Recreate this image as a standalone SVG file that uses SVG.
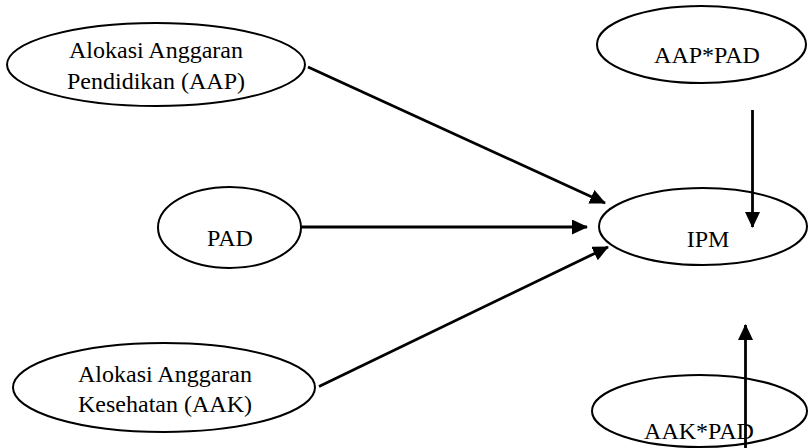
<svg xmlns="http://www.w3.org/2000/svg" width="808" height="448" viewBox="0 0 808 448">
<defs>
<marker id="arr" viewBox="0 0 16 15" refX="15" refY="7.5" markerWidth="16" markerHeight="15" markerUnits="userSpaceOnUse" orient="auto">
<path d="M0,0 L16,7.5 L0,15 z" fill="#000"/>
</marker>
<style>
.node ellipse{fill:#fff;stroke:#000;stroke-width:2}
.node text{fill:#000}
.edge{stroke:#000;stroke-width:2.8;fill:none}
</style>
</defs>
<rect width="808" height="448" fill="#fff"/>
<g id="n-aap" class="node" font-family="Liberation Serif, Times New Roman, serif" font-size="24" text-anchor="middle">
<ellipse cx="156" cy="64.5" rx="149" ry="41.5"/>
<text x="156" y="58">Alokasi Anggaran</text>
<text x="156" y="89">Pendidikan (AAP)</text>
</g>
<g id="n-pad" class="node" font-family="Liberation Serif, Times New Roman, serif" font-size="24" text-anchor="middle">
<ellipse cx="229.5" cy="227.5" rx="71.5" ry="40.5"/>
<text x="230" y="246">PAD</text>
</g>
<g id="n-aak" class="node" font-family="Liberation Serif, Times New Roman, serif" font-size="24" text-anchor="middle">
<ellipse cx="164" cy="387.5" rx="151" ry="44.5"/>
<text x="165" y="382">Alokasi Anggaran</text>
<text x="165" y="412">Kesehatan (AAK)</text>
</g>
<g id="n-aappad" class="node" font-family="Liberation Serif, Times New Roman, serif" font-size="24" text-anchor="middle">
<ellipse cx="701.5" cy="44.5" rx="104.5" ry="38.5"/>
<text x="707" y="63">AAP*PAD</text>
</g>
<g id="n-ipm" class="node" font-family="Liberation Serif, Times New Roman, serif" font-size="24" text-anchor="middle">
<ellipse cx="703" cy="226.5" rx="104" ry="38.5"/>
<text x="708" y="247">IPM</text>
</g>
<g id="n-aakpad" class="node" font-family="Liberation Serif, Times New Roman, serif" font-size="24" text-anchor="middle">
<ellipse cx="699.5" cy="411" rx="107.5" ry="36"/>
<text x="699" y="439">AAK*PAD</text>
</g>
<g id="connectors">
<path class="edge" marker-end="url(#arr)" d="M308,67 L605,203"/>
<path class="edge" marker-end="url(#arr)" d="M301,227 L587,227"/>
<path class="edge" marker-end="url(#arr)" d="M319,386.5 L608,247"/>
<path class="edge" marker-end="url(#arr)" d="M752.5,110 L752.5,227"/>
<path class="edge" marker-end="url(#arr)" d="M745.5,448 L745.5,325"/>
</g>
</svg>
